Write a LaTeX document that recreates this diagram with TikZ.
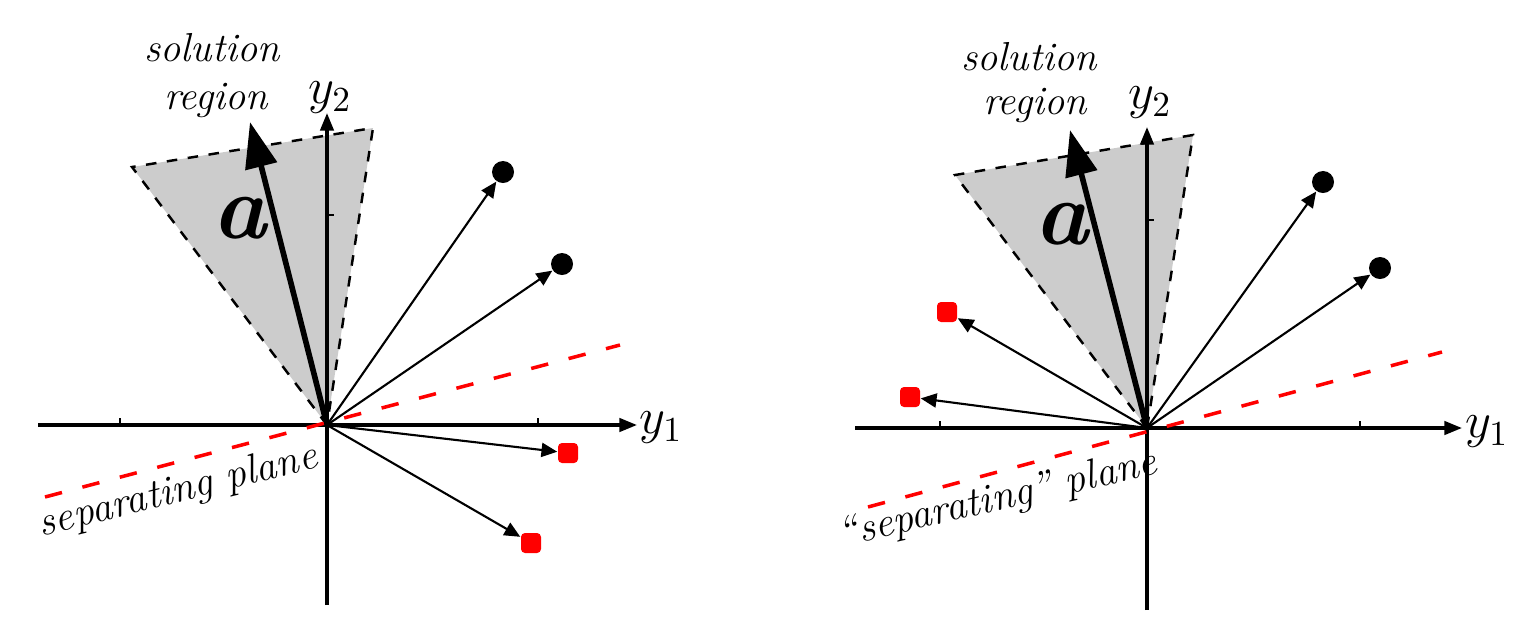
\documentclass[tikz,border=0pt]{standalone}
\usetikzlibrary{arrows.meta}
\begin{document}
\begin{tikzpicture}[x=0.01cm,y=-0.01cm,
  axline/.style={line width=0.9pt, -{Triangle[length=5pt,width=3.8pt]}},
  vecline/.style={line width=0.6pt, -{Triangle[length=4.5pt,width=4pt]}},
  avec/.style={line width=1.6pt, -{Triangle[length=13pt,width=9pt]}},
  conefill/.style={fill=black!20, draw=black, dashed, line width=0.7pt, line join=miter},
  sepline/.style={red, line width=1pt, dash pattern=on 5pt off 6pt},
  axtick/.style={line width=0.7pt},
  posdot/.style={circle, fill=black, inner sep=0pt, minimum size=0.22cm},
  negdot/.style={rectangle, rounded corners=0.04cm, fill=red, inner sep=0pt, minimum size=0.2cm},
  lbl/.style={font=\fontsize{11.5}{13}\selectfont\itshape, inner sep=0pt},
  plbl/.style={font=\fontsize{11.8}{14}\selectfont\itshape, inner sep=0pt},
  ylbl/.style={font=\Large, inner sep=0pt},
  albl/.style={font=\fontsize{26}{28}\selectfont\bfseries\itshape, inner sep=0pt}
]
\useasboundingbox (0,0) rectangle (1521,627);

% ---------- left panel ----------
\coordinate (O1) at (327,425);
\coordinate (c1a) at (132,167);
\coordinate (c1b) at (373,128);
\draw[conefill] (O1) -- (c1a) -- (c1b) -- cycle;

\coordinate (x1l) at (38,425);
\coordinate (x1r) at (637,425);
\coordinate (y1b) at (327,605);
\coordinate (y1t) at (327,113);
\draw[axline] (x1l) -- (x1r);
\draw[axline] (y1b) -- (y1t);
\draw[axtick] (120,425) -- (120,418);
\draw[axtick] (538,425) -- (538,418);
\draw[axtick] (327,215) -- (334,215);

\node[ylbl] (l1y1) at (661,428) {$y_1$};
\node[ylbl] (l1y2) at (330,98) {$y_2$};

\coordinate (a1) at (250,122);
\draw[avec] (O1) -- (a1);
\node[albl] (l1a) at (240,218) {a};
\node[lbl] (l1s) at (212,48) {solution};
\node[lbl] (l1r) at (216,100) {region};

\coordinate (s1a) at (45,497);
\coordinate (s1b) at (620,345);
\draw[sepline] (s1a) -- (s1b);
\node[plbl, rotate=14] (l1p) at (178,492) {separating plane};

\node[posdot] (p11) at (503,172) {};
\node[posdot] (p12) at (562,264) {};
\node[negdot] (n11) at (568,453) {};
\node[negdot] (n12) at (531,543) {};
\draw[vecline] (O1) -- (p11);
\draw[vecline] (O1) -- (p12);
\draw[vecline] (O1) -- (n11);
\draw[vecline] (O1) -- (n12);

% ---------- right panel ----------
\coordinate (O2) at (1147,428);
\coordinate (c2a) at (955,175);
\coordinate (c2b) at (1193,135);
\draw[conefill] (O2) -- (c2a) -- (c2b) -- cycle;

\coordinate (x2l) at (855,428);
\coordinate (x2r) at (1462,428);
\coordinate (y2b) at (1147,610);
\coordinate (y2t) at (1147,127);
\draw[axline] (x2l) -- (x2r);
\draw[axline] (y2b) -- (y2t);
\draw[axtick] (940,428) -- (940,421);
\draw[axtick] (1360,428) -- (1360,421);
\draw[axtick] (1147,220) -- (1154,220);

\node[ylbl] (l2y1) at (1487,432) {$y_1$};
\node[ylbl] (l2y2) at (1150,103) {$y_2$};

\coordinate (a2) at (1070,130);
\draw[avec] (O2) -- (a2);
\node[albl] (l2a) at (1062,224) {a};
\node[lbl] (l2s) at (1029,57) {solution};
\node[lbl] (l2r) at (1035,105) {region};

\coordinate (s2a) at (868,507);
\coordinate (s2b) at (1442,352);
\draw[sepline] (s2a) -- (s2b);
\node[plbl, rotate=13] (l2p) at (998,500) {\textquotedblleft separating\textquotedblright\ plane};

\node[posdot] (p21) at (1323,182) {};
\node[posdot] (p22) at (1380,268) {};
\node[negdot] (n21) at (947,312) {};
\node[negdot] (n22) at (910,397) {};
\draw[vecline] (O2) -- (p21);
\draw[vecline] (O2) -- (p22);
\draw[vecline] (O2) -- (n21);
\draw[vecline] (O2) -- (n22);
\end{tikzpicture}
\end{document}
